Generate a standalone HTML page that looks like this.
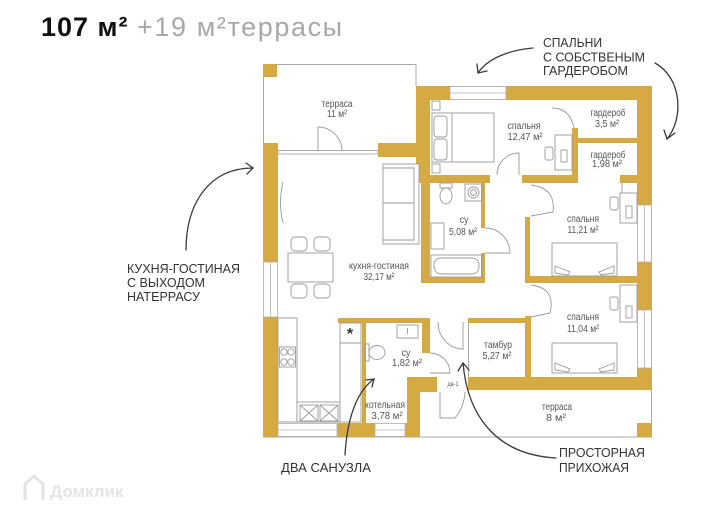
<!DOCTYPE html>
<html><head><meta charset="utf-8"><style>
html,body{margin:0;padding:0;background:#fff;}
svg{display:block;}
text{font-family:"Liberation Sans",sans-serif;}
</style></head><body>
<svg width="720" height="517" viewBox="0 0 720 517" xmlns="http://www.w3.org/2000/svg">
<rect width="720" height="517" fill="#fff"/>

<!-- header -->
<text x="41" y="36" font-size="27" font-weight="bold" fill="#111" letter-spacing="1">107 м²</text>
<text x="137" y="36" font-size="27" fill="#a8a8a8" letter-spacing="1.6">+19 м²террасы</text>

<!-- thin outlines -->
<g fill="none" stroke="#a8a8a8" stroke-width="1">
 <polyline points="263.5,143 263.5,64.5 416,64.5 416,86"/>
 <line x1="263" y1="437" x2="652" y2="437"/>
 <line x1="651.5" y1="390" x2="651.5" y2="437"/>
 <line x1="468.5" y1="323" x2="468.5" y2="377"/>
</g>
<rect x="278" y="150.5" width="100" height="3.5" fill="#fff" stroke="#999" stroke-width="0.8"/>

<!-- walls -->
<g fill="#D6AA42">
 <rect x="263" y="64" width="14" height="13"/>
 <rect x="263" y="143" width="15" height="119"/>
 <rect x="263" y="317" width="15" height="120"/>
 <rect x="378" y="143" width="52" height="14"/>
 <rect x="416" y="86" width="236" height="14"/>
 <rect x="416" y="86" width="14" height="97"/>
 <rect x="421" y="157" width="9" height="126"/>
 <rect x="637" y="86" width="15" height="304"/>
 <rect x="416" y="175" width="74" height="8"/>
 <rect x="522" y="175" width="56" height="8"/>
 <rect x="620" y="175" width="17" height="8"/>
 <rect x="572" y="128" width="6" height="55"/>
 <rect x="578" y="138" width="59" height="5"/>
 <rect x="481" y="178" width="4" height="50"/>
 <rect x="481" y="253" width="4" height="30"/>
 <rect x="421" y="277" width="64" height="6"/>
 <rect x="525" y="217" width="5" height="66"/>
 <rect x="525" y="316" width="6" height="74"/>
 <rect x="525" y="276" width="127" height="7"/>
 <rect x="468" y="377" width="184" height="13"/>
 <rect x="468" y="318" width="63" height="5"/>
 <rect x="338" y="318" width="92" height="5"/>
 <rect x="362" y="318" width="4" height="105"/>
 <rect x="422" y="318" width="8" height="35"/>
 <rect x="407" y="377" width="13" height="60"/>
 <rect x="407" y="377" width="30" height="15"/>
 <rect x="337" y="423" width="38" height="14"/>
 <rect x="405" y="423" width="15" height="14"/>
 <rect x="637" y="423" width="14" height="14"/>
</g>

<!-- windows -->
<g fill="#fff" stroke="#b0b0b0" stroke-width="0.8">
 <rect x="450" y="86.5" width="56" height="13"/>
 <rect x="263.5" y="262" width="14" height="55"/>
 <rect x="637.5" y="205" width="14" height="57"/>
 <rect x="637.5" y="310" width="14" height="58"/>
 <rect x="278" y="423.5" width="59" height="13"/>
 <rect x="375" y="423.5" width="30" height="13"/>
 <line x1="450" y1="93" x2="506" y2="93"/>
 <line x1="270.5" y1="262" x2="270.5" y2="317"/>
 <line x1="644.5" y1="205" x2="644.5" y2="262"/>
 <line x1="644.5" y1="310" x2="644.5" y2="368"/>
 <line x1="278" y1="430" x2="337" y2="430"/>
 <line x1="375" y1="430" x2="405" y2="430"/>
</g>

<!-- furniture / doors -->
<g fill="none" stroke="#9a9a9a" stroke-width="0.9">
 <line x1="318" y1="127" x2="318" y2="151"/>
 <path d="M318 127 A24 24 0 0 1 342 151"/>
 <path d="M283 182 Q278 202 283 223"/>
 <rect x="383" y="164" width="36" height="80" fill="#fff"/>
 <line x1="383" y1="203" x2="414" y2="203"/>
 <line x1="414" y1="167" x2="414" y2="241"/>
 <line x1="383" y1="168" x2="414" y2="168"/>
 <line x1="383" y1="240" x2="414" y2="240"/>
 <rect x="288" y="253" width="45" height="29" fill="#fff"/>
 <rect x="291" y="237" width="16" height="14" rx="4"/>
 <rect x="314" y="237" width="16" height="14" rx="4"/>
 <rect x="291" y="284" width="16" height="14" rx="4"/>
 <rect x="314" y="284" width="16" height="14" rx="4"/>
 <rect x="278" y="318" width="19" height="104" fill="#fff"/>
 <rect x="279.5" y="347" width="16" height="20"/>
 <circle cx="284" cy="352" r="3.2"/><circle cx="291" cy="352" r="3.2"/>
 <circle cx="284" cy="362" r="3.2"/><circle cx="291" cy="362" r="3.2"/>
 <rect x="297" y="402" width="43" height="20" fill="#fff"/>
 <rect x="300" y="405" width="18" height="16"/><rect x="320" y="405" width="18" height="16"/>
 <path d="M300 405 L318 421 M318 405 L300 421 M320 405 L338 421 M338 405 L320 421"/>
 <rect x="340" y="323" width="21" height="99" fill="#fff"/>
 <line x1="340" y1="343" x2="361" y2="343"/>
 <rect x="432" y="113" width="62" height="49" fill="#fff"/>
 <rect x="434" y="116" width="13" height="21" rx="3"/>
 <rect x="434" y="139" width="13" height="21" rx="3"/>
 <line x1="452" y1="113" x2="452" y2="162"/>
 <rect x="432" y="101" width="8" height="9"/>
 <rect x="432" y="164" width="8" height="9"/>
 <rect x="555" y="135" width="17" height="35"/>
 <rect x="545" y="147" width="8" height="13" rx="2"/>
 <rect x="561" y="150" width="6" height="12"/>
 <path d="M497 175 A22 22 0 0 1 519 153 L519 175"/>
 <path d="M552 108 Q570 108 574 128"/>
 <line x1="622" y1="183" x2="622" y2="193"/>
 <rect x="440" y="183" width="12" height="5"/>
 <ellipse cx="446" cy="196" rx="6" ry="8"/>
 <rect x="465" y="184" width="17" height="17"/>
 <circle cx="473.5" cy="192.5" r="5.5"/><circle cx="473.5" cy="192.5" r="3"/>
 <rect x="431" y="223" width="13" height="26"/>
 <rect x="431" y="255" width="51" height="22"/>
 <rect x="434" y="258" width="45" height="16" rx="7"/>
 <path d="M485 228 A25 25 0 0 1 510 253 L485 253"/>
 <path d="M531 185 Q556 188 553 212 L531 216"/>
 <rect x="620" y="193" width="17" height="30"/>
 <rect x="610" y="197" width="8" height="13" rx="2"/>
 <rect x="626" y="206" width="6" height="12"/>
 <rect x="552" y="243" width="65" height="33" fill="#fff"/>
 <path d="M555 266 L570 272 L568 275 L555 273 Z M614 266 L599 272 L601 275 L614 273 Z"/>
 <path d="M531 285 Q556 288 550 313 L531 317"/>
 <rect x="620" y="285" width="17" height="37"/>
 <rect x="610" y="297" width="8" height="13" rx="2"/>
 <rect x="626" y="306" width="6" height="12"/>
 <rect x="552" y="343" width="65" height="30" fill="#fff"/>
 <path d="M555 363 L570 369 L568 372 L555 370 Z M614 363 L599 369 L601 372 L614 370 Z"/>
 <rect x="397" y="325" width="21" height="13"/>
 <line x1="407.5" y1="328" x2="407.5" y2="334"/>
 <rect x="365" y="344" width="4" height="17"/>
 <ellipse cx="377" cy="352.5" rx="8" ry="7"/>
 <path d="M430 353 A20 20 0 0 1 450 373 L430 373"/>
 <line x1="463" y1="322" x2="463" y2="350"/>
 <path d="M438 322 A25 27 0 0 0 463 349"/>
 <path d="M440 392 L440 418 L455 418 Q464 408 465 392"/>
</g>
<text x="350" y="339" font-size="16" font-weight="bold" fill="#333" text-anchor="middle">*</text>

<!-- room labels -->
<g fill="#555" font-size="10" text-anchor="middle">
 <text x="337" y="107" textLength="31" lengthAdjust="spacingAndGlyphs">терраса</text>
 <text x="337" y="117" textLength="20" lengthAdjust="spacingAndGlyphs">11 м²</text>
 <text x="524" y="129" textLength="33" lengthAdjust="spacingAndGlyphs">спальня</text>
 <text x="525" y="140" textLength="35" lengthAdjust="spacingAndGlyphs">12,47 м²</text>
 <text x="608" y="116" textLength="35" lengthAdjust="spacingAndGlyphs">гардероб</text>
 <text x="607" y="127" textLength="24" lengthAdjust="spacingAndGlyphs">3,5 м²</text>
 <text x="608" y="158" textLength="35" lengthAdjust="spacingAndGlyphs">гардероб</text>
 <text x="607" y="167" textLength="30" lengthAdjust="spacingAndGlyphs">1,98 м²</text>
 <text x="464" y="223" textLength="9" lengthAdjust="spacingAndGlyphs">су</text>
 <text x="463" y="235" textLength="28" lengthAdjust="spacingAndGlyphs">5,08 м²</text>
 <text x="379" y="269" textLength="60" lengthAdjust="spacingAndGlyphs">кухня-гостиная</text>
 <text x="379" y="280" textLength="31" lengthAdjust="spacingAndGlyphs">32,17 м²</text>
 <text x="583" y="222" textLength="32" lengthAdjust="spacingAndGlyphs">спальня</text>
 <text x="583" y="233" textLength="31" lengthAdjust="spacingAndGlyphs">11,21 м²</text>
 <text x="583" y="320" textLength="32" lengthAdjust="spacingAndGlyphs">спальня</text>
 <text x="583" y="332" textLength="32" lengthAdjust="spacingAndGlyphs">11,04 м²</text>
 <text x="406" y="356" textLength="9" lengthAdjust="spacingAndGlyphs">су</text>
 <text x="407" y="366" textLength="30" lengthAdjust="spacingAndGlyphs">1,82 м²</text>
 <text x="498" y="348" textLength="28" lengthAdjust="spacingAndGlyphs">тамбур</text>
 <text x="497" y="359" textLength="29" lengthAdjust="spacingAndGlyphs">5,27 м²</text>
 <text x="385" y="408" textLength="40" lengthAdjust="spacingAndGlyphs">котельная</text>
 <text x="387" y="419" textLength="31" lengthAdjust="spacingAndGlyphs">3,78 м²</text>
 <text x="557" y="410" textLength="30" lengthAdjust="spacingAndGlyphs">терраса</text>
 <text x="556" y="421" textLength="20" lengthAdjust="spacingAndGlyphs">8 м²</text>
 <text x="453" y="386" font-size="6" textLength="11" lengthAdjust="spacingAndGlyphs">дв-1</text>
</g>

<!-- annotations -->
<g fill="#333" font-size="13">
 <text x="543" y="47" textLength="59" lengthAdjust="spacingAndGlyphs">СПАЛЬНИ</text>
 <text x="543" y="61.5" textLength="102" lengthAdjust="spacingAndGlyphs">С СОБСТВЕНЫМ</text>
 <text x="543" y="75" textLength="85" lengthAdjust="spacingAndGlyphs">ГАРДЕРОБОМ</text>
 <text x="127" y="273" textLength="113" lengthAdjust="spacingAndGlyphs">КУХНЯ-ГОСТИНАЯ</text>
 <text x="127" y="287" textLength="78" lengthAdjust="spacingAndGlyphs">С ВЫХОДОМ</text>
 <text x="127" y="301" textLength="73" lengthAdjust="spacingAndGlyphs">НАТЕРРАСУ</text>
 <text x="281" y="472" textLength="90" lengthAdjust="spacingAndGlyphs">ДВА САНУЗЛА</text>
 <text x="559" y="457" textLength="86" lengthAdjust="spacingAndGlyphs">ПРОСТОРНАЯ</text>
 <text x="559" y="472" textLength="70" lengthAdjust="spacingAndGlyphs">ПРИХОЖАЯ</text>
</g>

<!-- arrows -->
<g fill="none" stroke="#3a3a3a" stroke-width="1.3" stroke-linecap="round">
 <path d="M186 250 C186 205 208 168 253 168"/>
 <path d="M246 163 L253 168 L247 174"/>
 <path d="M533 48 C510 50 488 58 478 73"/>
 <path d="M477 64 L478 73 L487 71"/>
 <path d="M655 63 C682 78 684 118 667 139"/>
 <path d="M664 130 L667 139 L675 133"/>
 <path d="M345 455 C347 420 356 392 374 379"/>
 <path d="M366 380 L374 379 L372 387"/>
 <path d="M556 458 C500 455 468 420 463 363"/>
 <path d="M458 371 L463 363 L469 370"/>
</g>

<!-- watermark logo -->
<g fill="none" stroke="#e3e3e3" stroke-width="3" stroke-linejoin="round">
 <path d="M25 500 L25 484 L34 476 L43 484 L43 500"/>
</g>
<text x="50" y="497" font-size="17" font-weight="bold" fill="#e5e5e5">Домклик</text>
</svg>
</body></html>
